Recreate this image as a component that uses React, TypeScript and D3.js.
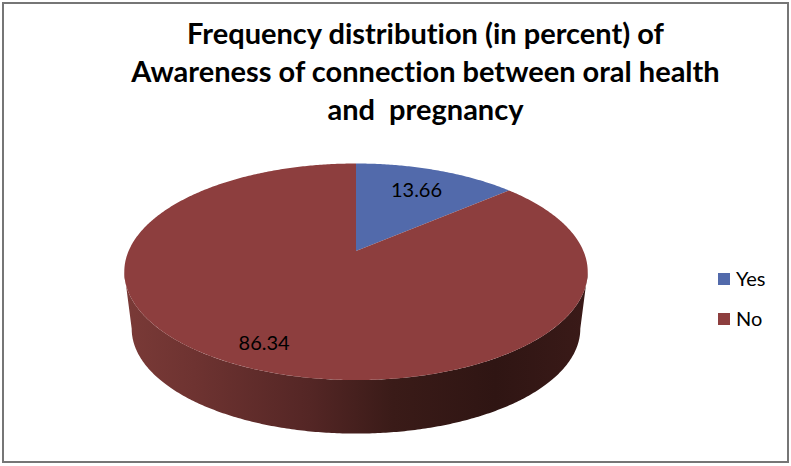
import React from 'react'
import * as d3 from 'd3'

const titleLines = ['Frequency distribution (in percent) of', 'Awareness of connection between oral health', 'and  pregnancy']
const categories = ['Yes', 'No']
const percents = [13.66, 86.34]
const sliceColors = ['#526AAB', '#8D3E3E']

const W = 791
const H = 466
const FONT = 'Lato, Carlito, sans-serif'

// perspective of the pie: circle (u, v) goes to the screen through these
const apexX = 356
const apexY = 251
const spreadX = 227.4
const spreadY = 104.3
const tilt = 0.192
// bottom rim of the pie is the top rim pushed down and a bit smaller
const rimCentreY = 271.5
const baseCentreY = 328.5
const baseScale = 0.968

const project = (angle: number, r = 1): [number, number] => {
	const u = Math.sin(angle) * r
	const v = Math.cos(angle) * r
	const w = 1 + tilt * v
	return [apexX + (spreadX * u) / w, apexY - (spreadY * v) / w]
}

const projectBase = (angle: number): [number, number] => {
	const [x, y] = project(angle)
	return [apexX + baseScale * (x - apexX), baseCentreY + baseScale * (y - rimCentreY)]
}

const line = d3.line()

const sweep = (a0: number, a1: number) => {
	const n = Math.max(2, Math.ceil(Math.abs(a1 - a0) / 0.01))
	return d3.range(n + 1).map(i => a0 + ((a1 - a0) * i) / n)
}

const slices = d3.pie<number>().sort(null).startAngle(0).endAngle(2 * Math.PI)(percents)

// angles where the rim is widest, the wall is visible between them
const wallStart = Math.acos(-tilt)
const wallEnd = 2 * Math.PI - wallStart
const wallAngles = sweep(wallStart, wallEnd)
const wallPath =
	line([...wallAngles.map(a => project(a)), ...wallAngles.slice().reverse().map(a => projectBase(a))]) + 'Z'

const labelRadius = [0.72, 0.83]
const wallStops: [number, string][] = [
	[0, '#3A1A18'],
	[0.2, '#2F1513'],
	[0.42, '#3A1B18'],
	[0.6, '#542625'],
	[0.85, '#6E3331'],
	[1, '#7A3A37'],
]

export default function App() {
	return (
		<svg width={W} height={H} viewBox={`0 0 ${W} ${H}`} style={{position: 'absolute', left: 0, top: 0}}>
			<defs>
				<linearGradient id="wall" x1="1" y1="0" x2="0" y2="0">
					{wallStops.map(([o, c]) => <stop key={o} offset={o} stopColor={c} />)}
				</linearGradient>
			</defs>
			<rect x={3} y={3} width={785} height={459} fill="#fff" stroke="#767676" strokeWidth={2} />

			<g fontFamily={FONT} fontWeight={700} fontSize={29} textAnchor="middle" fill="#000">
				{titleLines.map((t, i) => (
					<text key={i} x={425.5} y={44 + i * 38} style={{whiteSpace: 'pre', fontVariantLigatures: 'none'}}>{t}</text>
				))}
			</g>

			<path d={wallPath} fill="url(#wall)" />
			{slices.map((s, i) => (
				<path
					key={categories[i]}
					d={line([[apexX, apexY], ...sweep(s.startAngle, s.endAngle).map(a => project(a))]) + 'Z'}
					fill={sliceColors[i]}
				/>
			))}

			<g fontFamily={FONT} fontSize={20} textAnchor="middle" fill="#000">
				{slices.map((s, i) => {
					const [x, y] = project((s.startAngle + s.endAngle) / 2, labelRadius[i])
					return <text key={i} x={x} y={y + 7}>{percents[i]}</text>
				})}
			</g>

			<g fontFamily={FONT} fontSize={20} fill="#000">
				{categories.map((c, i) => (
					<g key={c} transform={`translate(718,${273 + i * 40})`}>
						<rect width={12} height={12} fill={sliceColors[i]} />
						<text x={18} y={13}>{c}</text>
					</g>
				))}
			</g>
		</svg>
	)
}
